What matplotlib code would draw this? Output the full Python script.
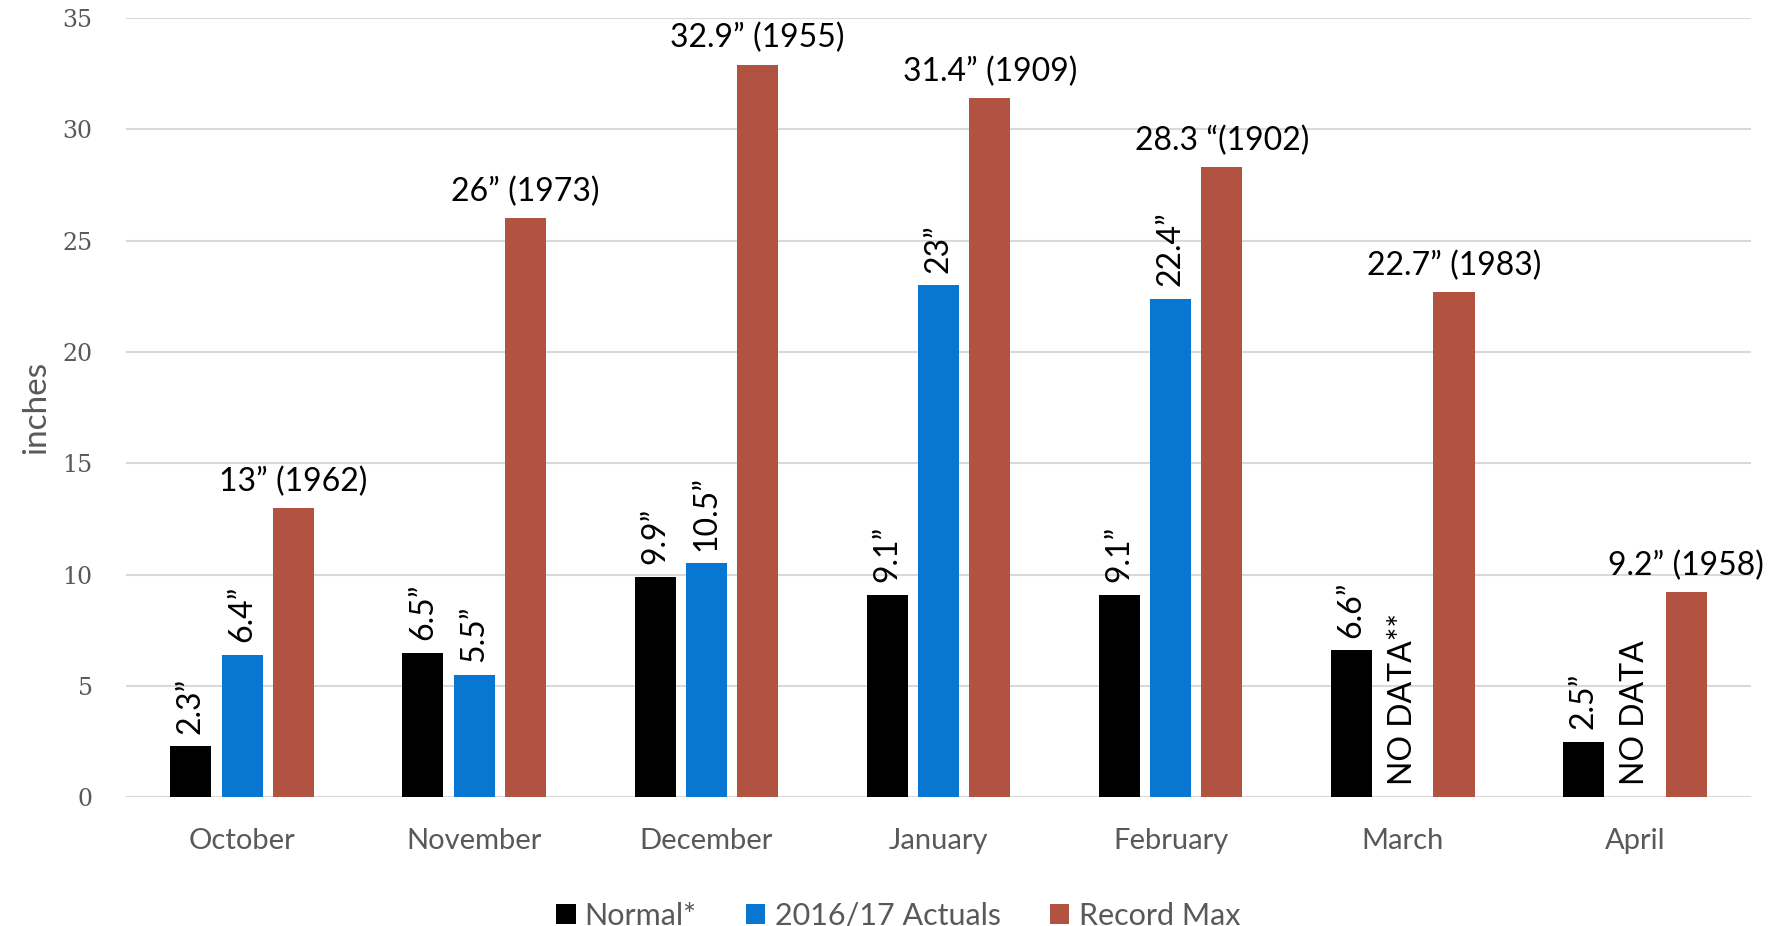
import matplotlib.pyplot as plt
import numpy as np

plt.rcParams.update({
    'font.family': ['Lato', 'DejaVu Sans'],
    'figure.dpi': 100,
})

months = ['October', 'November', 'December', 'January', 'February', 'March', 'April']
normal = [2.3, 6.5, 9.9, 9.1, 9.1, 6.6, 2.5]
actuals = [6.4, 5.5, 10.5, 23, 22.4, np.nan, np.nan]
record = [13, 26, 32.9, 31.4, 28.3, 22.7, 9.2]

normal_lbl = ['2.3\u201d', '6.5\u201d', '9.9\u201d', '9.1\u201d', '9.1\u201d', '6.6\u201d', '2.5\u201d']
actual_lbl = ['6.4\u201d', '5.5\u201d', '10.5\u201d', '23\u201d', '22.4\u201d', 'NO DATA**', 'NO DATA']
record_lbl = ['13\u201d (1962)', '26\u201d (1973)', '32.9\u201d (1955)', '31.4\u201d (1909)',
              '28.3 \u201c(1902)', '22.7\u201d (1983)', '9.2\u201d (1958)']

c_norm = '#000000'
c_act = '#0877d2'
c_rec = '#b25341'
grey = '#595959'

fig = plt.figure(figsize=(17.83, 9.26))
ax = fig.add_axes([0.0707, 0.139, 0.9113, 0.8416])

x = np.arange(len(months))
w = 0.177
off = 0.221

ax.bar(x - off, normal, w, color=c_norm, zorder=3, label='Normal*')
ax.bar(x, np.nan_to_num(actuals), w, color=c_act, zorder=3, label='2016/17 Actuals')
ax.bar(x + off, record, w, color=c_rec, zorder=3, label='Record Max')

fs = 23
for xi, v, t in zip(x, normal, normal_lbl):
    ax.annotate(t, (xi - off, v), xytext=(0, 9), textcoords='offset points',
                rotation=90, ha='center', va='bottom', fontsize=fs)
for xi, v, t in zip(x, actuals, actual_lbl):
    vv = 0 if np.isnan(v) else v
    ax.annotate(t, (xi, vv), xytext=(0, 9), textcoords='offset points',
                rotation=90, ha='center', va='bottom', fontsize=fs)
for xi, v, t in zip(x, record, record_lbl):
    ax.annotate(t, (xi + off, v), xytext=(0, 8), textcoords='offset points',
                ha='center', va='bottom', fontsize=fs)

ax.set_xlim(-0.5, 6.5)
ax.set_ylim(0, 35)
ax.set_yticks(range(0, 36, 5))
ax.yaxis.grid(True, color='#d9d9d9', linewidth=1.5, zorder=0)
ax.set_axisbelow(True)
for s in ax.spines.values():
    s.set_visible(False)
ax.tick_params(axis='both', length=0)
ax.tick_params(axis='y', pad=24)
ax.tick_params(axis='x', pad=22)
ax.set_xticks(x)
ax.set_xticklabels(months, fontsize=21, color=grey)
for lbl in ax.get_yticklabels():
    lbl.set_family('DejaVu Serif')
    lbl.set_fontsize(17)
    lbl.set_color(grey)

ax.set_ylabel('inches', fontsize=24, color=grey, labelpad=8)

ax.legend(loc='lower center', bbox_to_anchor=(0.475, -0.205), ncol=3, frameon=False,
          fontsize=22, labelcolor=grey, handlelength=0.65, handleheight=0.65,
          handletextpad=0.3, columnspacing=1.6)

fig.savefig('out.png')
